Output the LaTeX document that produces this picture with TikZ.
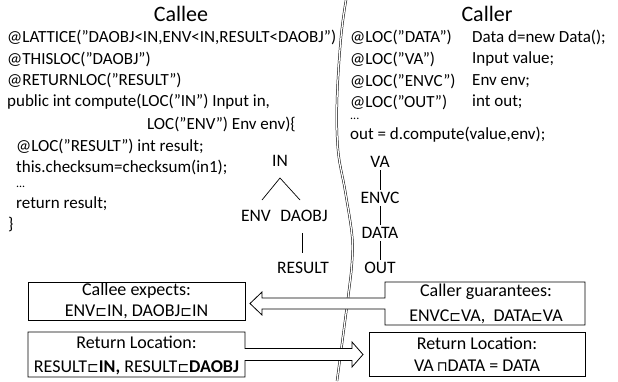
\documentclass[tikz,border=0pt]{standalone}
\usepackage{fontspec}
\setmainfont{Carlito}
\newfontfamily\symf{DejaVu Sans}
\newcommand{\sqs}{{\symf\fontsize{14}{16}\selectfont ⊏}}
\newcommand{\sqc}{{\symf\fontsize{14}{16}\selectfont ⊓}}
\begin{document}
\begin{tikzpicture}[x=1pt,y=-1pt,
  code/.style={anchor=west,inner sep=0pt,font=\fontsize{17}{20}\selectfont},
  dots/.style={anchor=west,inner sep=0pt,font=\fontsize{12}{12}\selectfont},
  title/.style={inner sep=0pt,font=\fontsize{22}{26}\selectfont},
  lat/.style={inner sep=2pt,font=\fontsize{17.5}{20}\selectfont},
  boxtext/.style={inner sep=0pt,align=center,font=\fontsize{18}{23}\selectfont},
  arrshape/.style={draw=black,line width=0.8pt,fill=white,line join=miter},
  lline/.style={draw=black,line width=0.7pt}]
\useasboundingbox (0,0) rectangle (618,381);
% divider
\draw[double=white,draw=black,line width=0.5pt,double distance=1.3pt]
  plot[smooth,tension=0.6] coordinates {(346,0) (341,37) (337,100) (338,150) (345,190) (352,235) (352,262) (348,298) (337,381)};
% titles
\node[title] (callee) at (181,14) {Callee};
\node[title] (caller) at (487,14) {Caller};
% callee code
\node[code] (l1) at (7,37) {@LATTICE(”DAOBJ<IN,ENV<IN,RESULT<DAOBJ”)};
\node[code] (l2) at (7,59) {@THISLOC(”DAOBJ”)};
\node[code] (l3) at (7,80) {@RETURNLOC(”RESULT”)};
\node[code] (l4) at (7,102) {public int compute(LOC(”IN”) Input in,};
\node[code] (l5) at (147,124) {LOC(”ENV”) Env env)\{};
\node[code] (l6) at (16,146) {@LOC(”RESULT”) int result;};
\node[code] (l7) at (16,167) {this.checksum=checksum(in1);};
\node[dots] (l8) at (16,187) {...};
\node[code] (l9) at (16,204) {return result;};
\node[code] (l10) at (8,225) {\}};
% caller code
\node[code] (r1) at (350,37) {@LOC(”DATA”)};
\node[code] (r1b) at (472,37) {Data d=new Data();};
\node[code] (r2) at (350,59) {@LOC(”VA”)};
\node[code] (r2b) at (472,59) {Input value;};
\node[code] (r3) at (350,81) {@LOC(”ENVC”)};
\node[code] (r3b) at (472,81) {Env env;};
\node[code] (r4) at (350,102) {@LOC(”OUT”)};
\node[code] (r4b) at (472,102) {int out;};
\node[dots] (r5) at (350,119) {...};
\node[code] (r6) at (350,135) {out = d.compute(value,env);};
% callee lattice
\node[lat] (IN) at (280,161) {IN};
\node[lat] (ENV) at (256,216) {ENV};
\node[lat] (DAOBJ) at (304,216) {DAOBJ};
\node[lat] (RESULT) at (303,268) {RESULT};
\coordinate (apex) at (280,178);
\coordinate (le) at (262,200);
\coordinate (re) at (300,200);
\draw[lline] (le) -- (apex) -- (re);
\draw[lline] (302,233) -- (302,253);
% caller lattice
\node[lat] (VA) at (380,162) {VA};
\node[lat] (ENVC) at (380,198) {ENVC};
\node[lat] (DATA) at (380,233) {DATA};
\node[lat] (OUT) at (380,268) {OUT};
\draw[lline] (VA) -- (ENVC);
\draw[lline] (ENVC) -- (DATA);
\draw[lline] (DATA) -- (OUT);
% callee expects box
\node[draw=black,line width=0.8pt,fill=white,minimum width=217pt,minimum height=38pt,inner sep=0pt] (CE) at (136.5,301) {};
\node[boxtext,font=\fontsize{18}{20.5}\selectfont] (CEt) at (CE.center) {Callee expects:\\ENV\sqs IN, DAOBJ\sqs IN};
% caller guarantees box with left arrow
\coordinate (CGnw) at (385,282);
\coordinate (CGse) at (585,325);
\draw[arrshape] (CGnw) -- (585,282) -- (CGse) -- (385,325) -- (385,309) -- (262,309) -- (262,315) -- (250,303.5) -- (262,292) -- (262,298) -- (385,298) -- cycle;
\node[boxtext,font=\fontsize{18}{24.5}\selectfont] (CG) at (486,304) {Caller guarantees:\\ENVC\sqs VA,\ \ DATA\sqs VA};
% callee return location with right arrow
\draw[arrshape] (28,332) -- (245,332) -- (245,348.5) -- (352,348.5) -- (352,342) -- (363,354.5) -- (352,367) -- (352,360.5) -- (245,360.5) -- (245,377) -- (28,377) -- cycle;
\node[boxtext,font=\fontsize{18}{24}\selectfont] (RL) at (136.5,355) {Return Location:\\RESULT\sqs\textbf{IN,} RESULT\sqs\textbf{DAOBJ}};
% caller return location box
\node[draw=black,line width=0.8pt,fill=white,minimum width=216pt,minimum height=44pt,inner sep=0pt] (RR) at (477,354) {};
\node[boxtext,font=\fontsize{18}{22}\selectfont] (RRt) at (RR.center) {Return Location:\\VA\,\sqc DATA = DATA};
\end{tikzpicture}
\end{document}
